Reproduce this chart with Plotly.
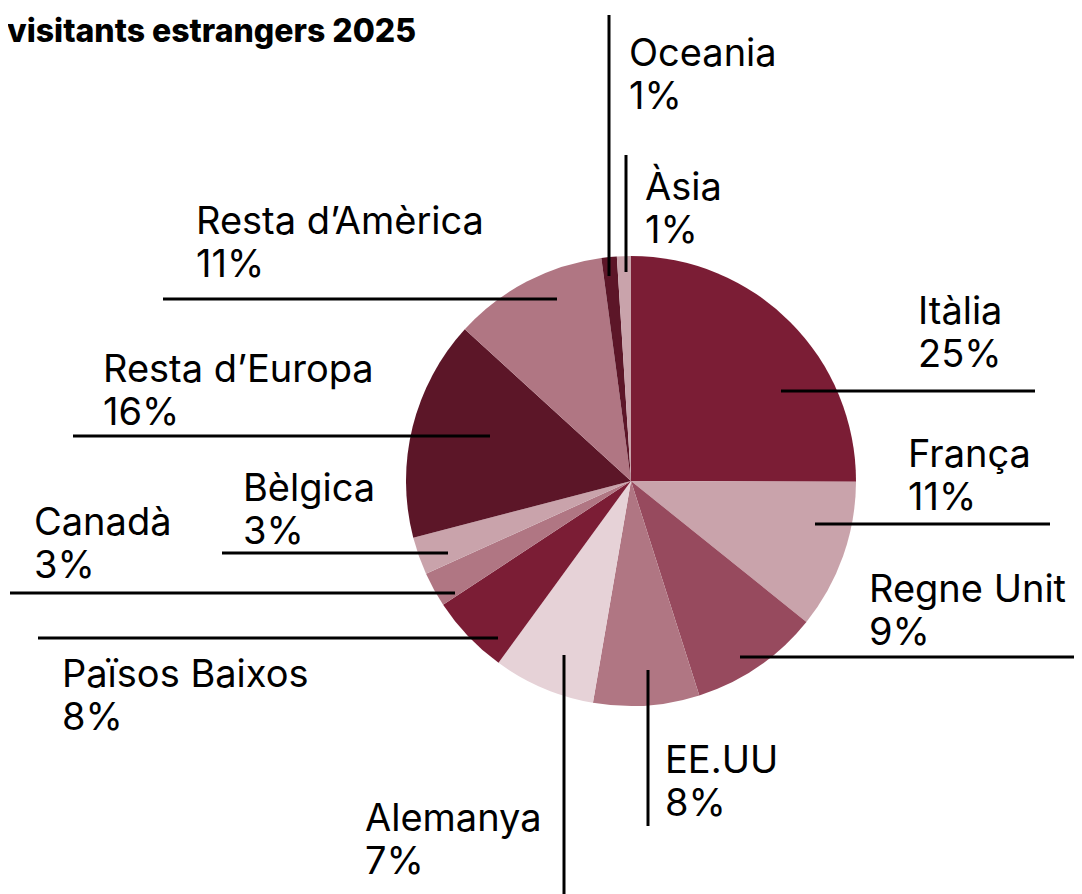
import plotly.graph_objects as go

W, H = 1082, 894
OFF = 8  # page body margin of the html file

# data
regions = ["Itàlia", "França", "Regne Unit", "EE.UU", "Alemanya", "Països Baixos",
           "Canadà", "Bèlgica", "Resta d\u2019Europa", "Resta d\u2019Amèrica", "Oceania", "Àsia"]
shares = [25, 10.7, 9.3, 7.6, 7.3, 5.7, 2.5, 2.7, 15.8, 11.1, 1.1, 1.0]
pct_labels = ["25%", "11%", "9%", "8%", "7%", "8%", "3%", "3%", "16%", "11%", "1%", "1%"]

# colours per slice
DARK = "#5c1628"
RED = "#7b1d35"
MID = "#974a5e"
ROSE = "#b07683"
PINK = "#c9a3ab"
PALE = "#e6d2d7"
colors = [RED, PINK, MID, ROSE, PALE, RED, ROSE, PINK, DARK, ROSE, DARK, PINK]

# label placement (pixels): text left x, first row centre y
label_pos = {
    "Itàlia": (918, 310),
    "França": (908, 453),
    "Regne Unit": (869, 588),
    "EE.UU": (665, 759),
    "Alemanya": (365, 817),
    "Països Baixos": (62, 673),
    "Canadà": (34, 521),
    "Bèlgica": (243, 487),
    "Resta d\u2019Europa": (103, 368),
    "Resta d\u2019Amèrica": (196, 220),
    "Oceania": (629, 52),
    "Àsia": (645, 186),
}
# leader lines (pixels)
leaders = {
    "Itàlia": (781, 391, 1035, 391),
    "França": (815, 524, 1050, 524),
    "Regne Unit": (740, 657, 1090, 657),
    "EE.UU": (648, 670, 648, 826),
    "Alemanya": (564, 655, 564, 900),
    "Països Baixos": (498, 638, 38, 638),
    "Canadà": (455, 593, 10, 593),
    "Bèlgica": (448, 553, 222, 553),
    "Resta d\u2019Europa": (490, 436, 73, 436),
    "Resta d\u2019Amèrica": (557, 299, 163, 299),
    "Oceania": (609, 276, 609, 15),
    "Àsia": (626, 272, 626, 155),
}

def px(x):
    return (x - OFF) / W

def py(y):
    return 1 - (y - OFF) / H

cx, cy, r = 631, 481, 225

fig = go.Figure()
fig.add_trace(go.Pie(labels=regions, values=shares, sort=False, direction="clockwise",
                     rotation=0, marker=dict(colors=colors, line=dict(width=0)),
                     textinfo="none", hoverinfo="label+percent", showlegend=False,
                     domain=dict(x=[px(cx - r), px(cx + r)], y=[py(cy + r), py(cy - r)])))

shapes = []
for name, (x0, y0, x1, y1) in leaders.items():
    shapes.append(dict(type="line", xref="paper", yref="paper",
                       x0=px(x0), y0=py(y0), x1=px(x1), y1=py(y1),
                       line=dict(color="black", width=3)))

annotations = []
font = dict(family="Inter, Roboto, sans-serif", size=38, color="black")
for name, pct in zip(regions, pct_labels):
    lx, ly = label_pos[name]
    annotations.append(dict(text=name, x=px(lx), y=py(ly), xref="paper", yref="paper",
                            xanchor="left", yanchor="middle", showarrow=False, font=font,
                            xshift=-2))
    annotations.append(dict(text=pct, x=px(lx), y=py(ly + 43), xref="paper", yref="paper",
                            xanchor="left", yanchor="middle", showarrow=False, font=font,
                            xshift=-2))

annotations.append(dict(text="visitants estrangers 2025", x=px(OFF), y=py(30),
                        xref="paper", yref="paper", xanchor="left", yanchor="middle",
                        showarrow=False, xshift=-3,
                        font=dict(family="Inter, Roboto, sans-serif", size=32,
                                  weight=800, color="black")))

fig.update_layout(width=W, height=H, margin=dict(l=0, r=0, t=0, b=0),
                  paper_bgcolor="white", plot_bgcolor="white",
                  shapes=shapes, annotations=annotations)

fig.write_html("out.html")
